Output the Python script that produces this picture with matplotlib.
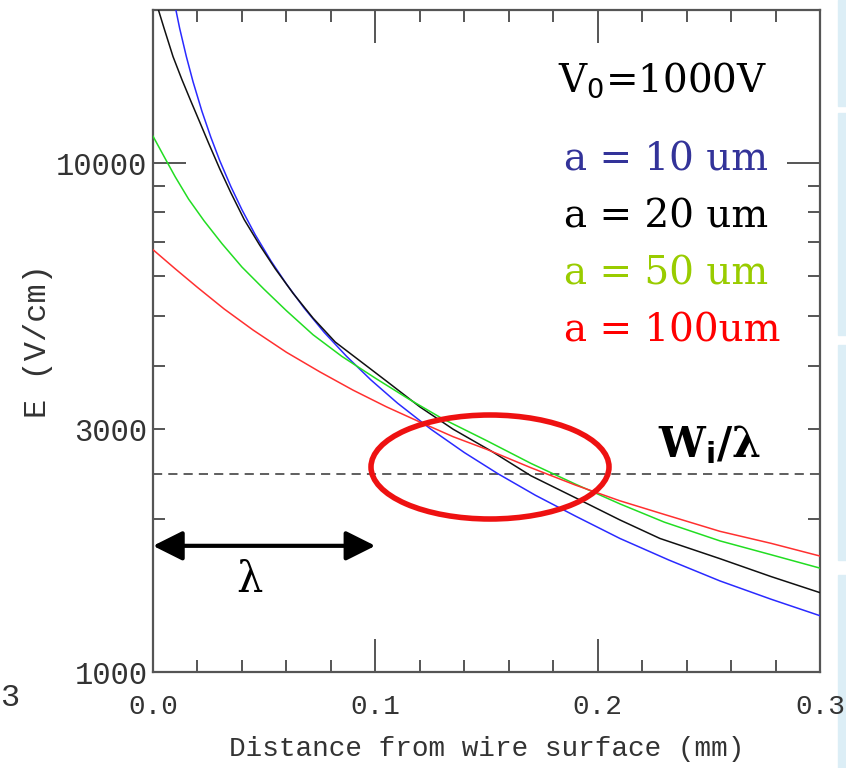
import matplotlib
matplotlib.use("Agg")
import matplotlib.pyplot as plt
from matplotlib.patches import Ellipse, Rectangle
from matplotlib.ticker import FixedLocator, FuncFormatter

# distance from wire surface (mm) and field (V/cm)
d_10um = [0.010, 0.012, 0.015, 0.018, 0.022, 0.026, 0.030, 0.035, 0.040, 0.046,
          0.053, 0.060, 0.068, 0.077, 0.087, 0.098, 0.110, 0.125, 0.140, 0.155,
          0.172, 0.190, 0.210, 0.232, 0.255, 0.278, 0.300]
e_10um = [20300, 18400, 16200, 14460, 12650, 11250, 10120, 9000, 8100, 7230,
          6430, 5790, 5190, 4650, 4175, 3750, 3375, 3000, 2700, 2455,
          2225, 2025, 1830, 1660, 1510, 1390, 1290]

d_20um = [0.002, 0.005, 0.009, 0.013, 0.017, 0.021, 0.025, 0.030, 0.035, 0.041,
          0.048, 0.055, 0.063, 0.072, 0.082, 0.093, 0.105, 0.120, 0.135, 0.152,
          0.170, 0.190, 0.210, 0.228, 0.255, 0.278, 0.300]
e_20um = [20300, 18400, 16200, 14600, 13250, 12050, 10950, 9750, 8750, 7750,
          6900, 6200, 5550, 4960, 4450, 4090, 3730, 3320, 3000, 2720,
          2430, 2200, 1990, 1830, 1670, 1540, 1432]

d_50um = [0.000, 0.005, 0.010, 0.016, 0.023, 0.031, 0.040, 0.050, 0.060, 0.072,
          0.085, 0.100, 0.115, 0.130, 0.150, 0.170, 0.190, 0.210, 0.230, 0.255,
          0.278, 0.300]
e_50um = [11300, 10300, 9400, 8500, 7700, 6950, 6250, 5650, 5130, 4600,
          4170, 3780, 3440, 3150, 2850, 2570, 2340, 2140, 1970, 1810,
          1700, 1600]

d_100um = [0.000, 0.010, 0.020, 0.032, 0.045, 0.060, 0.075, 0.090, 0.105, 0.120,
           0.135, 0.150, 0.170, 0.190, 0.210, 0.230, 0.255, 0.278, 0.300]
e_100um = [6760, 6200, 5700, 5170, 4700, 4250, 3890, 3580, 3320, 3100,
           2900, 2740, 2520, 2330, 2170, 2040, 1890, 1790, 1690]

w_over_lambda = 2450
lambda_mm = 0.1
arrow_e = 1770

series = [
    (d_10um, e_10um, "#2a2aff"),
    (d_20um, e_20um, "#111111"),
    (d_50um, e_50um, "#22dd22"),
    (d_100um, e_100um, "#ff3030"),
]
labels = [("a = 10 um", "#333399"), ("a = 20 um", "#000000"),
          ("a = 50 um", "#99cc00"), ("a = 100um", "#ff0000")]

W, H = 846, 768
fig = plt.figure(figsize=(W / 100, H / 100), dpi=100)


def fx(px):
    return px / W


def fy(py):
    return 1 - py / H


# slide background bits on the right edge
for y0, y1 in [(0, 106), (113, 335), (345, 560), (575, 768)]:
    fig.patches.append(Rectangle((fx(838), fy(y1)), fx(846) - fx(838), (y1 - y0) / H,
                                 transform=fig.transFigure, color="#dceef6", zorder=-1))

ax = fig.add_axes([fx(153), fy(672), fx(820) - fx(153), (672 - 10) / H])
ax.patch.set_alpha(0)
ax.set_yscale("log")
ax.set_xlim(0, 0.3)
ax.set_ylim(1000, 20000)

for d, e, c in series:
    ax.plot(d, e, color=c, lw=1.1, zorder=3)

ax.axhline(w_over_lambda, color="#333333", lw=1.1, ls=(0, (6, 4)), zorder=2)

grey = "#555555"
for s in ax.spines.values():
    s.set_color(grey)
    s.set_linewidth(1.6)

ax.xaxis.set_major_locator(FixedLocator([0.0, 0.1, 0.2, 0.3]))
ax.xaxis.set_minor_locator(FixedLocator([0.02 * i for i in range(1, 15) if i % 5]))
ax.xaxis.set_major_formatter(FuncFormatter(lambda v, p: f"{v:.1f}"))
ax.yaxis.set_major_locator(FixedLocator([1000, 10000]))
ax.yaxis.set_minor_locator(FixedLocator([2000, 3000, 4000, 5000, 6000, 7000, 8000, 9000, 20000]))
ax.yaxis.set_major_formatter(FuncFormatter(lambda v, p: f"{v:.0f}"))
ax.yaxis.set_minor_formatter(FuncFormatter(lambda v, p: "3000" if abs(v - 3000) < 1 else ""))

ax.tick_params(which="both", direction="in", top=True, right=True, color=grey,
               labelcolor="#333333", width=1.4)
ax.tick_params(which="major", length=24)
ax.tick_params(which="minor", length=8.5)
ax.tick_params(axis="x", which="major", pad=16, labelsize=20)
ax.tick_params(axis="y", which="both", pad=4, labelsize=22)
for lab in ax.get_xticklabels() + ax.get_yticklabels(which="both"):
    lab.set_family("Liberation Mono")

ax.set_xlabel("Distance from wire surface (mm)", family="Liberation Mono",
              fontsize=20, color="#333333", labelpad=11)
ax.set_ylabel("E (V/cm)", family="Liberation Mono", fontsize=23,
              color="#333333", labelpad=2)

# annotations on the slide
ell = Ellipse((fx(490), fy(467)), fx(238), 104 / H, transform=fig.transFigure,
              fill=False, ec="#ee1111", lw=4, zorder=5)
fig.patches.append(ell)

ax.annotate("", xy=(0.0, arrow_e), xytext=(lambda_mm, arrow_e),
            arrowprops=dict(arrowstyle="<|-|>,head_length=0.9,head_width=0.45",
                            mutation_scale=20, color="black", lw=3,
                            shrinkA=0, shrinkB=0))
fig.text(fx(249), fy(580), "λ", family="DejaVu Serif", fontsize=30,
         ha="center", va="center")
fig.text(fx(710), fy(445), r"W$_\mathbf{i}$/λ", family="DejaVu Serif", fontsize=30,
         fontweight="bold", ha="center", va="center")

fig.text(fx(558), fy(80), r"V$_0$=1000V", family="DejaVu Serif", fontsize=28,
         ha="left", va="center")
for i, (txt, col) in enumerate(labels):
    fig.text(fx(564), fy(160 + 57 * i), txt, color=col, family="DejaVu Serif",
             fontsize=28, ha="left", va="center")

fig.text(fx(0), fy(698), "3", family="Liberation Mono", fontsize=23,
         color="#333333", ha="left", va="center")

fig.savefig("out.png", dpi=100)
